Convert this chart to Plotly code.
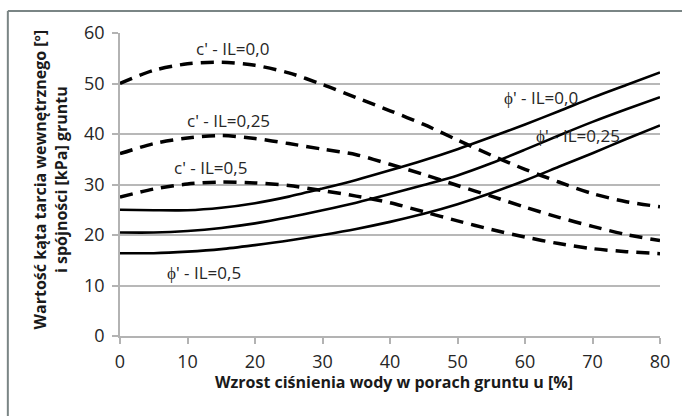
import plotly.graph_objects as go

u = [0, 5, 10, 15, 20, 25, 30, 35, 40, 45, 50, 55, 60, 65, 70, 75, 80]

c_il00 = [50.0, 52.6, 53.9, 54.2, 53.6, 52.1, 49.8, 47.2, 44.6, 41.9, 38.8, 35.8, 33.0, 30.5, 28.2, 26.6, 25.6]
c_il025 = [36.1, 38.1, 39.2, 39.7, 39.1, 38.1, 37.0, 35.9, 34.0, 32.0, 29.8, 27.7, 25.5, 23.5, 21.7, 20.1, 18.9]
c_il05 = [27.5, 29.1, 30.1, 30.5, 30.3, 29.8, 28.8, 27.7, 26.4, 24.6, 22.8, 21.1, 19.6, 18.3, 17.3, 16.7, 16.3]

phi_il00 = [25.0, 24.9, 24.9, 25.4, 26.3, 27.6, 29.2, 30.9, 32.8, 34.8, 37.0, 39.4, 41.9, 44.5, 47.2, 49.7, 52.2]
phi_il025 = [20.5, 20.5, 20.8, 21.4, 22.3, 23.5, 24.9, 26.4, 28.1, 29.9, 31.8, 34.2, 36.9, 39.7, 42.4, 44.9, 47.3]
phi_il05 = [16.4, 16.4, 16.7, 17.2, 18.0, 18.9, 20.0, 21.2, 22.6, 24.2, 26.1, 28.3, 30.8, 33.5, 36.2, 39.0, 41.7]

labels = ["c' - IL=0,0", "c' - IL=0,25", "c' - IL=0,5", "ϕ' - IL=0,0", "ϕ' - IL=0,25", "ϕ' - IL=0,5"]
label_u = [16.7, 16.0, 13.4, 62.4, 67.9, 12.4]
label_v = [57.0, 42.7, 33.4, 47.3, 39.7, 12.6]

x_ticks = [0, 10, 20, 30, 40, 50, 60, 70, 80]
y_ticks = [0, 10, 20, 30, 40, 50, 60]

x_title = "Wzrost ciśnienia wody w porach gruntu u [%]"
y_title = "Wartość kąta tarcia wewnętrznego [º]<br>i spójności [kPa] gruntu"

FONT = "Open Sans"
fig = go.Figure()

for name, ys in [(labels[0], c_il00), (labels[1], c_il025), (labels[2], c_il05)]:
    fig.add_trace(go.Scatter(x=u, y=ys, mode="lines", name=name,
                             line=dict(color="black", width=3.5, dash="13px,8px", shape="spline", smoothing=0.8)))
for name, ys in [(labels[3], phi_il00), (labels[4], phi_il025), (labels[5], phi_il05)]:
    fig.add_trace(go.Scatter(x=u, y=ys, mode="lines", name=name,
                             line=dict(color="black", width=2.6, shape="spline", smoothing=0.8)))

for t, xu, yv in zip(labels, label_u, label_v):
    fig.add_annotation(x=xu, y=yv, text=t, showarrow=False,
                       font=dict(family=FONT, size=17, color="#262626"))

fig.add_annotation(xref="paper", yref="paper", x=-0.127, y=0.515, text=y_title,
                   xanchor="center", yanchor="middle",
                   textangle=-90, showarrow=False, align="center",
                   font=dict(family=FONT, size=16, color="#1a1a1a", weight="bold"))
fig.add_annotation(xref="paper", yref="paper", x=0.508, y=-0.152, text=x_title,
                   xanchor="center", yanchor="middle",
                   showarrow=False,
                   font=dict(family=FONT, size=16, color="#1a1a1a", weight="bold"))

# outer frame (top and left edges visible)
fig.add_shape(type="line", xref="paper", yref="paper", x0=-0.2077, x1=1.1, y0=1.0726, y1=1.0726,
              line=dict(color="#7a8585", width=2))
fig.add_shape(type="line", xref="paper", yref="paper", x0=-0.2077, x1=-0.2077, y0=1.0726, y1=-0.35,
              line=dict(color="#7a8585", width=2))

fig.update_layout(
    width=682, height=416,
    margin=dict(l=120, r=18, t=33, b=80),
    plot_bgcolor="white", paper_bgcolor="white",
    showlegend=False,
    font=dict(family=FONT, size=16, color="#262626"),
)
fig.update_xaxes(range=[0, 80], tickvals=x_ticks, showgrid=False, zeroline=False,
                 showline=True, linecolor="#b3b3b3", linewidth=1.5,
                 ticks="outside", ticklen=6, tickcolor="#b3b3b3", tickwidth=1.5,
                 ticklabelstandoff=3,
                 tickfont=dict(family=FONT, size=18, color="#262626"))
fig.update_yaxes(range=[0, 60], tickvals=y_ticks, showgrid=True, gridcolor="#b8b8b8", gridwidth=1.5,
                 zeroline=False, showline=True, linecolor="#b3b3b3", linewidth=1.5,
                 ticks="outside", ticklen=6, tickcolor="#b3b3b3", tickwidth=1.5,
                 ticklabelstandoff=4,
                 tickfont=dict(family=FONT, size=18, color="#262626"))

fig.write_html("out.html")
